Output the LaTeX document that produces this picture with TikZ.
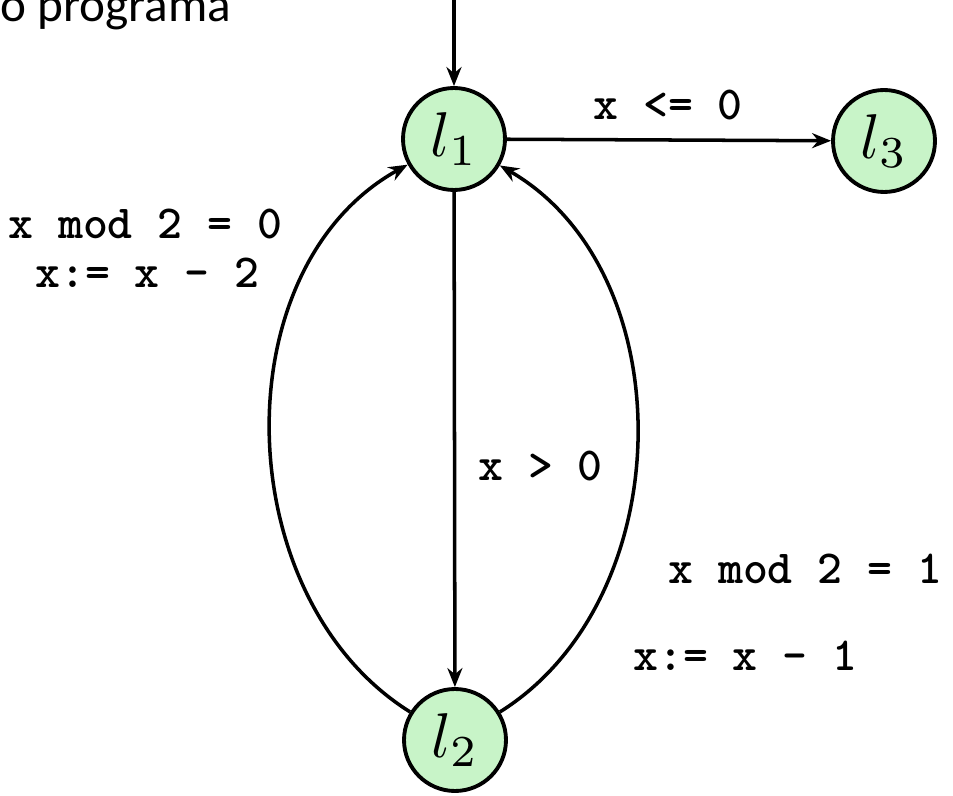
\documentclass[tikz,border=0pt]{standalone}
\usepackage{fontspec}
\setmainfont{Carlito}
\usepackage{graphicx}
\usepackage{tikz}
\usepackage{xcolor}
\usetikzlibrary{shapes,arrows.meta,positioning,calc}
\definecolor{stategreen}{RGB}{200,244,200}
\newcommand{\loc}[1]{\scalebox{3.6}{$l_{#1}$}}

\begin{document}
\begin{tikzpicture}[x=0.02cm,y=0.02cm,
        state/.style={circle, draw=black, line width=2.2pt, fill=stategreen,
            minimum size=2.04cm, inner sep=0pt},
        guard/.style={anchor=base west, inner sep=0pt, font=\ttfamily\bfseries\fontsize{27}{32}\selectfont},
        trans/.style={-{Stealth[length=0.38cm,width=0.3cm]}, line width=2pt}]
        \useasboundingbox (0,0) rectangle (953,795);

        % Title (cut off)
        \node[anchor=base west, inner sep=0pt, font=\fontsize{28}{32}\selectfont] (title) at (0,773) {o programa};

        % Locations
        \node[state] (l1) at (454,656) {\loc{1}};
        \node[state] (l2) at (455,55) {\loc{2}};
        \node[state] (l3) at (884,654) {\loc{3}};
        \coordinate (init) at (454,795);

        % Transitions
        \draw[trans] (init) -- (l1);
        \draw[trans] (l1) -- (l3);
        \draw[trans] (l1) -- (l2);
        \draw[trans] (l2) to[out=148, in=209, looseness=1] (l1);
        \draw[trans] (l2) to[out=32, in=330, looseness=1] (l1);

        % Guards and updates
        \node[guard] (g13) at (593,675) {x <= 0};
        \node[guard] (g12) at (478,315) {x > 0};
        \node[guard] (g21a) at (8,556) {x mod 2 = 0};
        \node[guard] (u21a) at (35,507) {x:= x - 2};
        \node[guard] (g21b) at (668,212) {x mod 2 = 1};
        \node[guard] (u21b) at (633,125) {x:= x - 1};
\end{tikzpicture}
\end{document}
